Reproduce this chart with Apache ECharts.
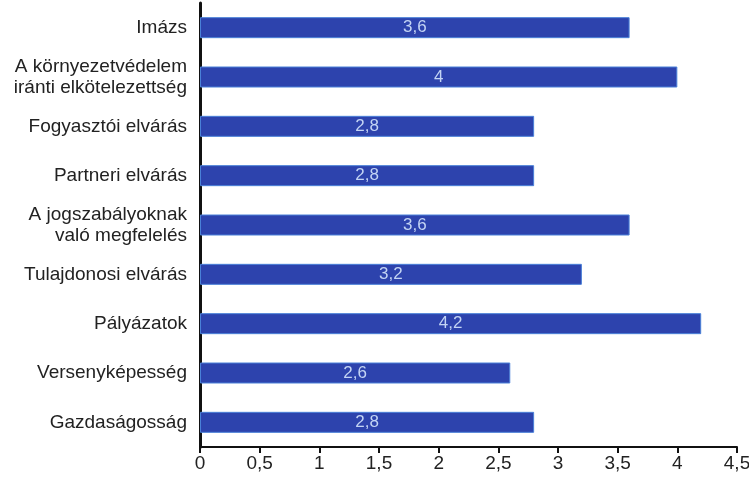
<!DOCTYPE html>
<html>
<head>
	<meta charset="utf-8">
	<title>Bar chart</title>
	<script type="text/javascript" src="https://cdn.jsdelivr.net/npm/echarts@6/dist/echarts.min.js"></script>
	<style type="text/css">
		body{ margin:0; background:#fff; }
		#main{ width:749px; height:478px; }
	</style>
</head>
<body>
<div id="main"></div>
<script type="text/javascript">
	// categories from top to bottom
	var categories = [
		'Imázs',
		'A környezetvédelem\niránti elkötelezettség',
		'Fogyasztói elvárás',
		'Partneri elvárás',
		'A jogszabályoknak\nvaló megfelelés',
		'Tulajdonosi elvárás',
		'Pályázatok',
		'Versenyképesség',
		'Gazdaságosság'
	];
	var values = [3.6, 4, 2.8, 2.8, 3.6, 3.2, 4.2, 2.6, 2.8];

	function comma(v){
		return String(v).replace('.', ',');
	}

	var myChart = echarts.init(document.getElementById('main'));

	var option = {
		animation: false,
		textStyle: { fontFamily: 'Liberation Sans' },
		grid: {
			top: 3,
			left: 200,
			right: 12,
			bottom: 31,
			outerBoundsMode: 'none'
		},
		xAxis: {
			type: 'value',
			min: 0,
			max: 4.5,
			interval: 0.5,
			splitLine: { show: false },
			axisLine: {
				show: true,
				lineStyle: { color: '#111', width: 2 }
			},
			axisTick: {
				show: true,
				length: 6,
				lineStyle: { color: '#111', width: 2 }
			},
			axisLabel: {
				color: '#222',
				fontSize: 19,
				margin: 7,
				formatter: function(v){ return comma(v); }
			}
		},
		yAxis: {
			type: 'category',
			inverse: true,
			data: categories,
			axisLine: {
				show: true,
				lineStyle: { color: '#111', width: 3 }
			},
			axisTick: { show: false },
			axisLabel: {
				color: '#222',
				fontSize: 19,
				lineHeight: 21,
				margin: 13
			}
		},
		series: [{
			type: 'bar',
			data: values,
			barWidth: 21,
			itemStyle: {
				color: '#2d43ad',
				borderColor: '#4a80d8',
				borderWidth: 1
			},
			label: {
				show: true,
				position: 'inside',
				color: '#c3d4f4',
				fontSize: 17,
				formatter: function(p){ return comma(p.value); }
			}
		}]
	};

	myChart.setOption(option);
</script>
</body>
</html>
